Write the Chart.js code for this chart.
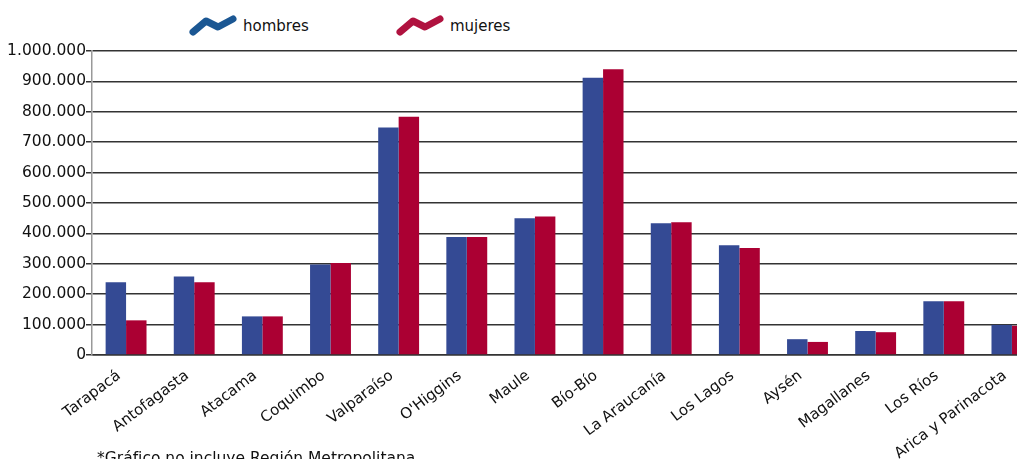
<!DOCTYPE html>
<html lang="es">
<head>
  <meta charset="UTF-8" />
  <title>Población por región</title>
  <script src="https://cdn.jsdelivr.net/npm/chart.js"></script>
  <style>
    html, body { margin: 0; padding: 0; background: #fff; overflow: hidden; }
    body { width: 1017px; height: 459px; position: relative; font-family: "DejaVu Sans", sans-serif; color: #111; }
    #wrap { position: absolute; left: 0; top: 0; width: 1050px; height: 459px; }
    .leg { position: absolute; top: 15px; display: flex; align-items: center; font-size: 15px; }
    .leg svg { margin-right: 6px; }
    #note { position: absolute; left: 97px; top: 449px; font-size: 15.5px; white-space: nowrap; }
  </style>
</head>
<body>

  <!-- Leyenda -->
  <div class="leg" style="left:189px">
    <svg width="48" height="22"><polyline points="4,17 17,6 29,12 44,4" fill="none" stroke="#1b5793" stroke-width="7" stroke-linejoin="round" stroke-linecap="round"/></svg>hombres
  </div>
  <div class="leg" style="left:396px">
    <svg width="48" height="22"><polyline points="4,17 17,6 29,12 44,4" fill="none" stroke="#b0123f" stroke-width="7" stroke-linejoin="round" stroke-linecap="round"/></svg>mujeres
  </div>

  <div id="wrap"><canvas id="chart"></canvas></div>

  <div id="note">*Gráfico no incluye Región Metropolitana</div>

  <script>
    const regiones = ['Tarapacá','Antofagasta','Atacama','Coquimbo','Valparaíso',"O'Higgins",'Maule','Bío-Bío','La Araucanía','Los Lagos','Aysén','Magallanes','Los Ríos','Arica y Parinacota'];
    const hombres = [239000, 258000, 127000, 298000, 748000, 388000, 450000, 912000, 433000, 361000, 52000, 79000, 177000, 99000];
    const mujeres = [114000, 239000, 127000, 303000, 784000, 388000, 456000, 940000, 437000, 352000, 43000, 75000, 177000, 96000];
    const yMax = 1000000;
    const yStep = 100000;

    const family = '"DejaVu Sans", sans-serif';

    new Chart(document.getElementById('chart'), {
      type: 'bar',
      data: {
        labels: regiones,
        datasets: [
          { label: 'hombres', data: hombres, backgroundColor: '#344a94' },
          { label: 'mujeres', data: mujeres, backgroundColor: '#ab0033' }
        ]
      },
      options: {
        responsive: true,
        maintainAspectRatio: false,
        animation: false,
        layout: { padding: { top: 51, right: 4, left: 0, bottom: 0 } },
        datasets: { bar: { categoryPercentage: 0.6, barPercentage: 1 } },
        plugins: { legend: { display: false }, tooltip: { enabled: false } },
        scales: {
          x: {
            grid: { display: false },
            border: { color: '#333', width: 1.5 },
            ticks: {
              color: '#111',
              font: { family: family, size: 15 },
              minRotation: 37,
              maxRotation: 37,
              autoSkip: false,
              padding: 4,
              labelOffset: -7
            },
            afterFit: s => { s.height = 104; }
          },
          y: {
            min: 0,
            max: yMax,
            grid: { color: '#333', lineWidth: 1.5, tickLength: 6 },
            border: { color: '#999', width: 1.5 },
            ticks: {
              stepSize: yStep,
              color: '#111',
              font: { family: family, size: 15.5 },
              padding: 0,
              callback: v => v.toLocaleString('de-DE')
            },
            afterFit: s => { s.width = 92; }
          }
        }
      }
    });
  </script>
</body>
</html>
